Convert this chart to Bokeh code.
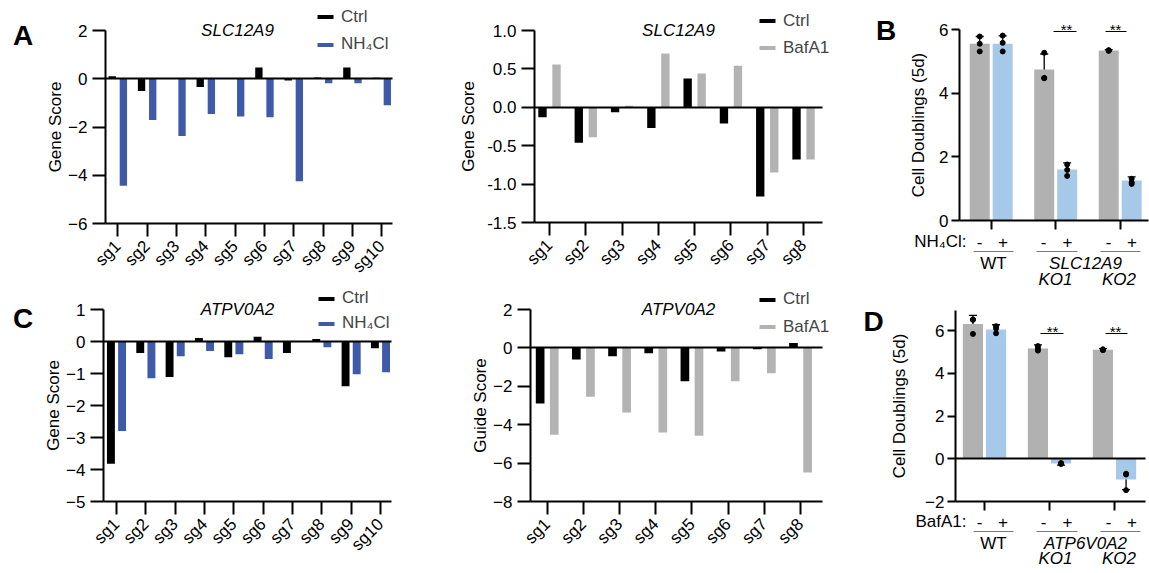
import math
import numpy as np
from bokeh.plotting import figure
from bokeh.models import (Range1d, FixedTicker, Label, Legend, LegendItem, LinearAxis,
                          Whisker, TeeHead, ColumnDataSource, NumeralTickFormatter, Arrow)
from bokeh.layouts import row, column
from bokeh.embed import file_html
from bokeh.resources import INLINE

FONT = "Liberation Sans"
BLACK = "#000000"
BLUE = "#3f5aa8"
GRAY = "#b3b3b3"
LBLUE = "#a6c9ea"
BGRAY = "#b1b1b1"

# ---------------- data ----------------
guides10 = ["sg1", "sg2", "sg3", "sg4", "sg5", "sg6", "sg7", "sg8", "sg9", "sg10"]
guides8 = ["sg1", "sg2", "sg3", "sg4", "sg5", "sg6", "sg7", "sg8"]

# A left: SLC12A9, Ctrl vs NH4Cl (Gene Score)
a1_ctrl = [0.10, -0.51, 0.00, -0.34, 0.00, 0.47, -0.07, 0.05, 0.47, 0.04]
a1_nh4cl = [-4.44, -1.71, -2.37, -1.46, -1.56, -1.60, -4.25, -0.19, -0.19, -1.10]
# A right: SLC12A9, Ctrl vs BafA1 (Gene Score)
a2_ctrl = [-0.13, -0.46, -0.065, -0.27, 0.375, -0.21, -1.16, -0.68]
a2_bafa1 = [0.557, -0.39, 0.02, 0.70, 0.44, 0.54, -0.85, -0.68]
# C left: ATPV0A2, Ctrl vs NH4Cl (Gene Score)
c1_ctrl = [-3.82, -0.36, -1.11, 0.11, -0.49, 0.15, -0.36, 0.08, -1.40, -0.21]
c1_nh4cl = [-2.80, -1.15, -0.46, -0.30, -0.40, -0.55, 0.00, -0.18, -1.02, -0.96]
# C right: ATPV0A2, Ctrl vs BafA1 (Guide Score)
c2_ctrl = [-2.89, -0.61, -0.43, -0.28, -1.74, -0.19, -0.07, 0.26]
c2_bafa1 = [-4.52, -2.54, -3.36, -4.40, -4.57, -1.74, -1.32, -6.49]

# B: cell doublings, SLC12A9 KO, -/+ NH4Cl
b_groups = ["WT", "KO1", "KO2"]
b_minus_mean = [5.55, 4.74, 5.34]
b_minus_err = [0.23, 0.49, 0.03]
b_plus_mean = [5.55, 1.60, 1.26]
b_plus_err = [0.25, 0.21, 0.11]
b_minus_pts = [[5.78, 5.55, 5.31], [5.27, 4.48, 4.47], [5.33, 5.34, 5.35]]
b_plus_pts = [[5.81, 5.58, 5.31], [1.76, 1.59, 1.40], [1.31, 1.20, 1.15]]

# D: cell doublings, ATP6V0A2 KO, -/+ BafA1
d_groups = ["WT", "KO1", "KO2"]
d_minus_mean = [6.30, 5.16, 5.10]
d_minus_err = [0.41, 0.17, 0.05]
d_plus_mean = [6.05, -0.22, -0.97]
d_plus_err = [0.22, 0.08, 0.47]
d_minus_pts = [[6.52, 5.84, 6.50], [5.27, 5.06, 5.15], [5.12, 5.08, 5.10]]
d_plus_pts = [[6.20, 5.87, 6.10], [-0.20, -0.23, -0.24], [-0.70, -1.47, -0.74]]


def style_axis(ax):
    ax.axis_line_width = 2
    ax.axis_line_color = "black"
    ax.major_tick_line_width = 2
    ax.major_tick_line_color = "black"
    ax.major_tick_in = 0
    ax.minor_tick_line_color = None
    ax.major_label_text_font = FONT
    ax.major_label_text_font_size = "17px"
    ax.major_label_text_color = "black"
    ax.axis_label_text_font = FONT
    ax.axis_label_text_font_size = "17px"
    ax.axis_label_text_font_style = "normal"
    ax.axis_label_text_color = "black"


# ---------------- helpers ----------------
class Panel:
    """A figure whose frame is the whole figure; axes are placed with fixed_location."""

    def __init__(self, fig_box, axis_box, t0, step, yr, ybounds=None):
        ox, oy, w, h = fig_box
        ax0, ay0, ax1, ay1 = axis_box  # page px: left, top(=yr[1]), right, bottom(=yr[0])
        self.t0, self.step = t0, step
        self.ay0, self.ky, self.ytop = ay0, (yr[1] - yr[0]) / (ay1 - ay0), yr[1]
        p = figure(width=w, height=h, output_backend="svg", toolbar_location=None,
                   x_range=Range1d(self.dx(ox), self.dx(ox + w)),
                   y_range=Range1d(self.dy(oy + h), self.dy(oy)),
                   min_border_left=0, min_border_right=0, min_border_top=0, min_border_bottom=0)
        p.xgrid.visible = False
        p.ygrid.visible = False
        p.outline_line_color = None
        p.background_fill_color = "white"
        p.border_fill_color = "white"
        for ax in p.axis:
            style_axis(ax)
        p.xaxis.fixed_location = yr[0]
        p.xaxis.bounds = (self.dx(ax0), self.dx(ax1))
        p.yaxis.fixed_location = self.dx(ax0)
        p.yaxis.bounds = ybounds if ybounds else (yr[0], yr[1])
        self.p = p
        self.ax0, self.ax1 = ax0, ax1

    def dx(self, px):
        return (px - self.t0) / self.step

    def dy(self, py):
        return self.ytop - (py - self.ay0) * self.ky

    def zero_line(self, px1=None):
        z = LinearAxis(fixed_location=0, ticker=FixedTicker(ticks=[]),
                       bounds=(self.dx(self.ax0), self.dx(px1 if px1 else self.ax1)))
        style_axis(z)
        self.p.add_layout(z, "below")

    def text(self, px, py, txt, size="17px", style="normal", align="center", baseline="middle"):
        self.p.add_layout(Label(x=self.dx(px), y=self.dy(py), text=txt, text_font=FONT,
                                text_font_size=size, text_font_style=style, text_color="black",
                                text_align=align, text_baseline=baseline))

    def hline(self, px0, px1, py, color="black", width=1.0):
        self.p.add_layout(Arrow(start=None, end=None, x_start=self.dx(px0), x_end=self.dx(px1),
                                y_start=self.dy(py), y_end=self.dy(py),
                                line_color=color, line_width=width))

    def legend_item(self, renderer, label, sw_left, center_y, fig_box):
        ox, oy, w, h = fig_box
        leg = Legend(items=[LegendItem(label=label, renderers=[renderer])],
                     location=(sw_left - ox, (oy + h) - (center_y + 11)),
                     glyph_width=20, glyph_height=5, label_standoff=6, spacing=0,
                     padding=0, margin=0, border_line_color=None, background_fill_alpha=0,
                     label_text_font=FONT, label_text_font_size="17px", label_height=22)
        self.p.add_layout(leg)


def bar_panel(fig_box, axis_box, t0, step, yr, cats, ctrl, treat, treat_color, treat_name,
              yticks, ylabel, title, title_pos, legend_pos, letter, letter_pos,
              off=0.19, bw=0.25, fmt=None, label_standoff=8):
    pan = Panel(fig_box, axis_box, t0, step, yr)
    p = pan.p
    idx = np.arange(len(cats))
    src = ColumnDataSource(dict(xc=idx - off, xt=idx + off, ctrl=ctrl, treat=treat, cat=cats))
    r1 = p.vbar(x="xc", top="ctrl", bottom=0, width=bw, source=src, fill_color=BLACK, line_color=None)
    r2 = p.vbar(x="xt", top="treat", bottom=0, width=bw, source=src, fill_color=treat_color, line_color=None)
    pan.zero_line()
    p.xaxis[0].ticker = FixedTicker(ticks=list(range(len(cats))))
    p.xaxis[0].major_label_overrides = {i: c for i, c in enumerate(cats)}
    p.xaxis[0].major_label_orientation = math.pi / 4
    p.xaxis[0].major_tick_out = 13
    p.xaxis[0].major_label_standoff = 7
    p.yaxis.ticker = FixedTicker(ticks=yticks)
    p.yaxis.major_tick_out = 13
    p.yaxis.major_label_standoff = 5
    p.yaxis.axis_label = ylabel
    p.yaxis.axis_label_standoff = label_standoff
    if fmt:
        p.yaxis.formatter = NumeralTickFormatter(format=fmt)
    pan.text(title_pos[0], title_pos[1], title, style="italic")
    if letter:
        pan.text(letter_pos[0], letter_pos[1], letter, size="28px", style="bold")
    sw_left, c1, c2 = legend_pos
    pan.legend_item(r1, "Ctrl", sw_left, c1, fig_box)
    pan.legend_item(r2, treat_name, sw_left, c2, fig_box)
    return p


def doubling_panel(fig_box, axis_box, t0, step, yr, ybounds, minus_mean, minus_err, plus_mean,
                   plus_err, minus_pts, plus_pts, yticks, treat_label, gene, letter, letter_pos,
                   y_signs, y_ul, y_wt, y_ko, sig_lines, sig_stars, sig_y, star_base,
                   zero_line=False, label_standoff=12):
    pan = Panel(fig_box, axis_box, t0, step, yr, ybounds)
    p = pan.p
    g = np.arange(len(minus_mean))
    off, bw = 0.178, 0.31
    src = ColumnDataSource(dict(
        xm=g - off, xp=g + off, mm=minus_mean, mp=plus_mean,
        mu=np.array(minus_mean) + np.array(minus_err), ml=np.array(minus_mean) - np.array(minus_err),
        pu=np.array(plus_mean) + np.array(plus_err), pl=np.array(plus_mean) - np.array(plus_err)))
    p.vbar(x="xm", top="mm", bottom=0, width=bw, source=src, fill_color=BGRAY, line_color=None)
    p.vbar(x="xp", top="mp", bottom=0, width=bw, source=src, fill_color=LBLUE, line_color=None)
    if zero_line:
        pan.zero_line()
    for b, u, l in (("xm", "mu", "ml"), ("xp", "pu", "pl")):
        p.add_layout(Whisker(source=src, base=b, upper=u, lower=l, dimension="height",
                             line_color="black", line_width=1.3,
                             upper_head=TeeHead(size=8, line_width=1.3, line_color="black"),
                             lower_head=TeeHead(size=8, line_width=1.3, line_color="black")))
    px, py = [], []
    for i in range(len(minus_pts)):
        for v in minus_pts[i]:
            px.append(i - off); py.append(v)
        for v in plus_pts[i]:
            px.append(i + off); py.append(v)
    p.scatter(px, py, size=5, color="black")
    p.xaxis[0].ticker = FixedTicker(ticks=list(range(len(minus_mean))))
    p.xaxis[0].major_label_overrides = {i: "" for i in range(len(minus_mean))}
    p.xaxis[0].major_tick_out = 9
    p.yaxis.ticker = FixedTicker(ticks=yticks)
    p.yaxis.major_tick_out = 8
    p.yaxis.major_label_standoff = 3
    p.yaxis.axis_label = "Cell Doublings (5d)"
    p.yaxis.axis_label_standoff = label_standoff
    # annotations below the axis
    pan.text(966, y_signs, treat_label, align="right")
    for x in (979, 1043, 1108):
        pan.text(x, y_signs, "-")
    for x in (1002.5, 1067, 1131.5):
        pan.text(x, y_signs, "+")
    for a, b in ((973, 1013), (1036, 1077), (1100, 1140)):
        pan.hline(a, b, y_ul, color="#7a7a7a", width=1.2)
    pan.text(993, y_wt, "WT")
    pan.text(1085, y_wt, gene, style="italic")
    pan.text(1055, y_ko, "KO1", style="italic")
    pan.text(1118.5, y_ko, "KO2", style="italic")
    for (a, b), sx in zip(sig_lines, sig_stars):
        pan.hline(a, b, sig_y, color="black", width=1.2)
        pan.text(sx, star_base, "**", size="15px", baseline="alphabetic")
    pan.text(letter_pos[0], letter_pos[1], letter, size="28px", style="bold")
    return p


pA1 = bar_panel((0, 0, 420, 287), (105, 30, 392, 223), 117.3, 29.33, (-6, 2), guides10,
                a1_ctrl, a1_nh4cl, BLUE, "NH₄Cl", [-6, -4, -2, 0, 2], "Gene Score",
                "SLC12A9", (237, 30), (315, 16.7, 44), "A", (22.5, 35), label_standoff=0)
pA2 = bar_panel((420, 0, 430, 287), (534, 30, 822, 222), 549, 36.29, (-1.5, 1.0), guides8,
                a2_ctrl, a2_bafa1, GRAY, "BafA1", [-1.5, -1.0, -0.5, 0.0, 0.5, 1.0], "Gene Score",
                "SLC12A9", (678, 30), (757, 20.7, 47.7), "", (0, 0), off=0.193, bw=0.23, fmt="0.0",
                label_standoff=6)
pC1 = bar_panel((0, 287, 420, 286), (103, 309, 391, 501), 116, 29.33, (-5, 1), guides10,
                c1_ctrl, c1_nh4cl, BLUE, "NH₄Cl", [-5, -4, -3, -2, -1, 0, 1], "Gene Score",
                "ATPV0A2", (237, 309), (316, 298, 323), "C", (22.5, 318), off=0.19, bw=0.27,
                label_standoff=0)
pC2 = bar_panel((420, 287, 430, 286), (530, 309, 822, 501), 546.7, 36.19, (-8, 2), guides8,
                c2_ctrl, c2_bafa1, GRAY, "BafA1", [-8, -6, -4, -2, 0, 2], "Guide Score",
                "ATPV0A2", (678, 309), (757, 299, 326.7), "", (0, 0), off=0.195, bw=0.24,
                label_standoff=0)

pB = doubling_panel((850, 0, 299, 287), (959, 29, 1148, 220), 990.7, 64.5, (0, 6), None,
                    b_minus_mean, b_minus_err, b_plus_mean, b_plus_err, b_minus_pts, b_plus_pts,
                    [0, 2, 4, 6], "NH₄Cl:", "SLC12A9", "B", (885.5, 29.5),
                    241, 251, 263, 278.5, [(1053, 1076), (1105, 1126)], [1066, 1115], 31, 29,
                    zero_line=False, label_standoff=8)
pD = doubling_panel((850, 287, 299, 286), (955, 330, 1145, 501), 984, 65, (-2, 6), (-2, 6.94),
                    d_minus_mean, d_minus_err, d_plus_mean, d_plus_err, d_minus_pts, d_plus_pts,
                    [-2, 0, 2, 4, 6], "BafA1:", "ATP6V0A2", "D", (873, 321),
                    521, 531, 543, 558, [(1040, 1063), (1105, 1127)], [1052, 1115], 333, 331,
                    zero_line=True, label_standoff=13)

layout = column(row(pA1, pA2, pB), row(pC1, pC2, pD))
open("out.html", "w").write(file_html(layout, INLINE, title="CRISPR screens"))
